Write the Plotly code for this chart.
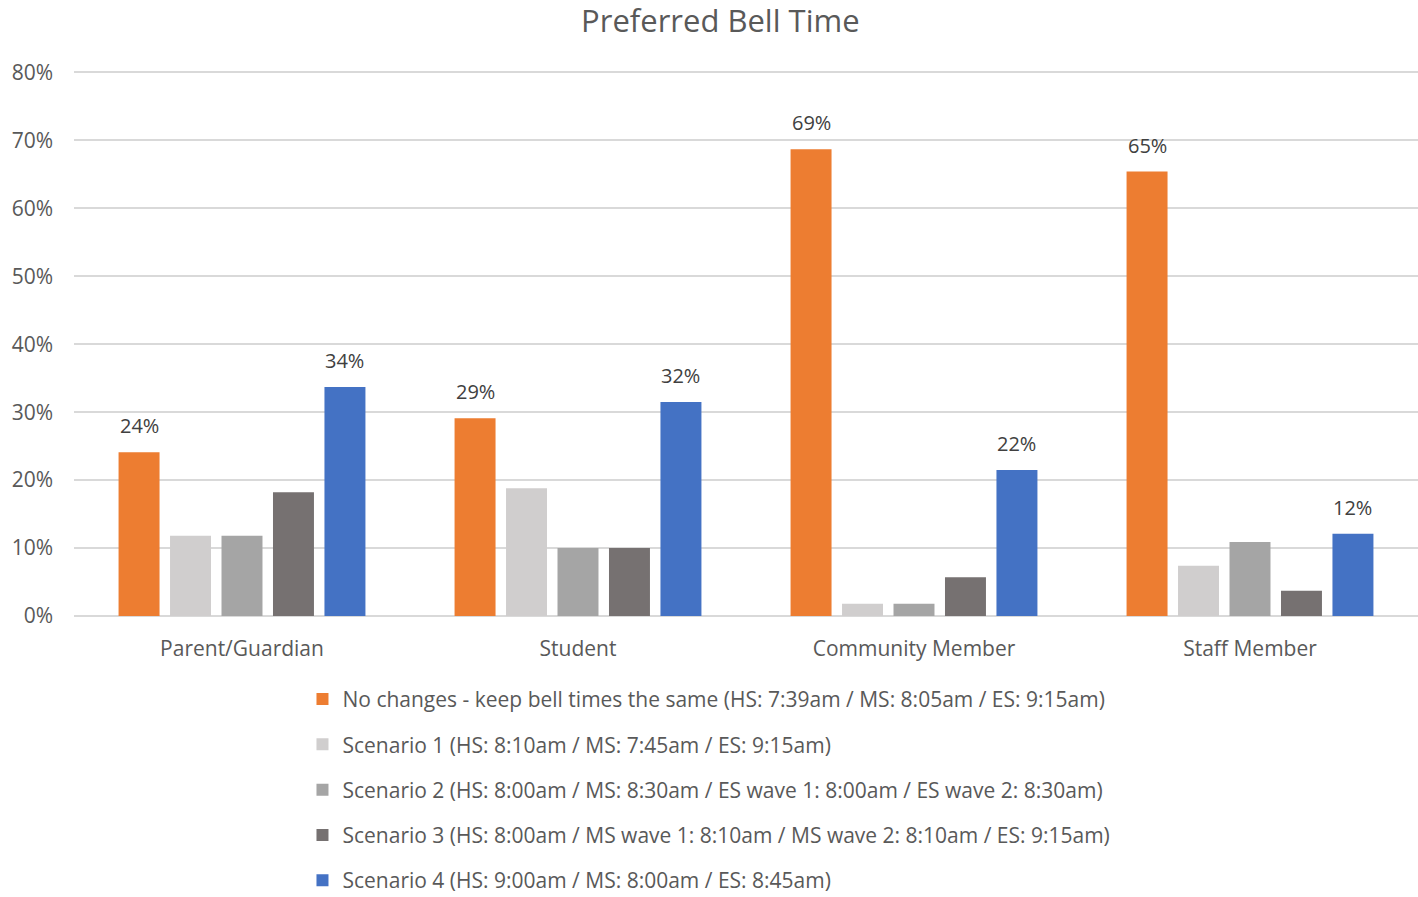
import plotly.graph_objects as go

categories = ["Parent/Guardian", "Student", "Community Member", "Staff Member"]
series_names = [
    "No changes - keep bell times the same (HS: 7:39am / MS: 8:05am / ES: 9:15am)",
    "Scenario 1 (HS: 8:10am / MS: 7:45am / ES: 9:15am)",
    "Scenario 2 (HS: 8:00am / MS: 8:30am / ES wave 1: 8:00am / ES wave 2: 8:30am)",
    "Scenario 3 (HS: 8:00am / MS wave 1: 8:10am / MS wave 2: 8:10am / ES: 9:15am)",
    "Scenario 4 (HS: 9:00am / MS: 8:00am / ES: 8:45am)",
]
no_changes = [0.241, 0.291, 0.687, 0.654]
scenario1 = [0.118, 0.188, 0.018, 0.074]
scenario2 = [0.118, 0.100, 0.018, 0.109]
scenario3 = [0.182, 0.100, 0.057, 0.037]
scenario4 = [0.337, 0.315, 0.215, 0.121]
show_labels = [True, False, False, False, True]
colors = ["#ED7D31", "#D0CECE", "#A5A5A5", "#767171", "#4472C4"]

values = [no_changes, scenario1, scenario2, scenario3, scenario4]
FONT = "Open Sans"

W, H = 1418, 897
ML, MR, MT, MB = 74, 0, 69, 281
BARGAP, BARGROUPGAP = 0.234, 0.204
n_series = len(values)

fig = go.Figure()
for i, (name, vals) in enumerate(zip(series_names, values)):
    fig.add_trace(go.Bar(
        x=categories, y=vals, name=name,
        marker=dict(color=colors[i], line=dict(width=0)),
        legendgroup=f"g{i}",
        hoverinfo="skip",
    ))

# data labels as annotations, shifted to each bar's slot within the group
cat_px = (W - ML - MR) / len(categories)
slot_px = cat_px * (1 - BARGAP) / n_series
for i, vals in enumerate(values):
    if not show_labels[i]:
        continue
    for c, v in zip(categories, vals):
        fig.add_annotation(
            x=c, y=v, xref="x", yref="y", text=f"{v:.0%}", showarrow=False,
            xanchor="center", yanchor="bottom", yshift=11,
            xshift=(i - (n_series - 1) / 2) * slot_px,
            font=dict(family=FONT, size=20, color="#404040"),
        )

fig.update_layout(
    width=W, height=H,
    paper_bgcolor="white", plot_bgcolor="white",
    margin=dict(l=ML, r=MR, t=MT, b=MB, autoexpand=False),
    barmode="group", bargap=BARGAP, bargroupgap=BARGROUPGAP,
    title=dict(text="Preferred Bell Time", x=0.508, xanchor="center", y=0.976, yanchor="middle",
               font=dict(family=FONT, size=31, color="#595959")),
    font=dict(family=FONT, color="#595959"),
    xaxis=dict(showgrid=False, showline=False, ticks="", tickfont=dict(size=21, color="#595959"),
               ticklabelstandoff=18, automargin=False),
    yaxis=dict(range=[0, 0.805], tickvals=[0, 0.1, 0.2, 0.3, 0.4, 0.5, 0.6, 0.7, 0.8],
               tickformat=".0%", showgrid=True, gridcolor="#D9D9D9",
               gridwidth=1.5, zeroline=True, zerolinecolor="#D9D9D9", zerolinewidth=1.5,
               tickfont=dict(size=21, color="#595959"), ticklabelstandoff=20, automargin=False),
    legend=dict(orientation="v", x=0.170, xanchor="left", y=-0.115, yanchor="top",
                font=dict(family=FONT, size=21, color="#595959"), tracegroupgap=15,
                itemwidth=30),
    showlegend=True,
)

fig.write_html(
    "out.html",
    config={"displayModeBar": False},
    post_script="document.body.style.margin='0';document.body.style.overflow='hidden';",
)
